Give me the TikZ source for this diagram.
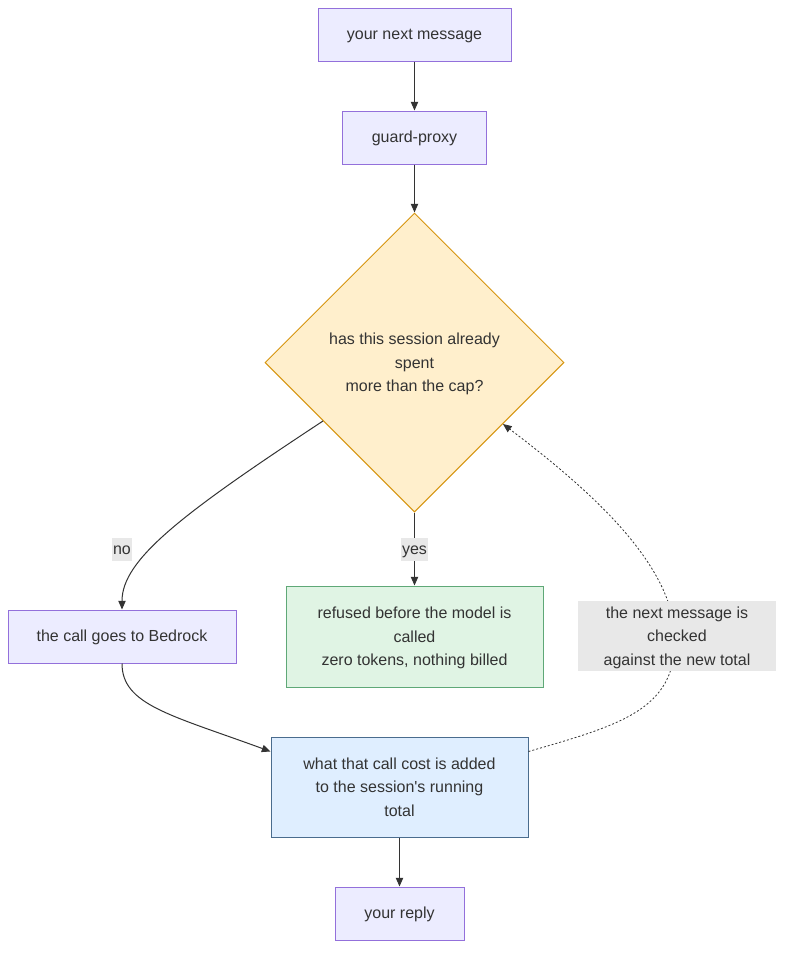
\documentclass[tikz,border=0pt]{standalone}
\usepackage{fontspec}
\setmainfont{Liberation Sans}[Ligatures=TeXOff]
\usetikzlibrary{shapes.geometric,arrows.meta,calc}

\definecolor{boxfill}{HTML}{ECECFF}
\definecolor{boxline}{HTML}{9370DB}
\definecolor{askfill}{HTML}{FFEFCC}
\definecolor{askline}{HTML}{D6950F}
\definecolor{okfill}{HTML}{E0F4E4}
\definecolor{okline}{HTML}{5FA877}
\definecolor{sumfill}{HTML}{DFEEFF}
\definecolor{sumline}{HTML}{4A6C8E}
\definecolor{lblfill}{HTML}{E8E8E8}
\definecolor{ink}{HTML}{333333}

\begin{document}
\begin{tikzpicture}[x=0.75pt,y=-0.75pt]

    \tikzstyle{base} = [line width=0.75pt, text=ink, align=center, inner sep=0pt, font=\fontsize{12}{17.6}\selectfont]
    \tikzstyle{oneline} = [text height=10pt, text depth=2.5pt]
    \tikzstyle{multi} = [text depth=0pt]
    \tikzstyle{block} = [base, draw=boxline, fill=boxfill, rectangle, minimum height=39.75pt]
    \tikzstyle{ask} = [base, multi, draw=askline, fill=askfill, diamond, minimum width=224.25pt, minimum height=224.25pt]
    \tikzstyle{edgelbl} = [base, fill=lblfill, inner xsep=1pt, minimum height=17.25pt]
    \tikzstyle{link} = [line width=0.75pt, draw=ink, -{Triangle[length=6.5pt,width=5.5pt]}]

    \useasboundingbox (0,0) rectangle (792,958);

    \node[block, oneline, minimum width=144.75pt] (msg) at (414.5,34.5) {your next message};
    \node[block, oneline, minimum width=108pt] (proxy) at (414.5,137.5) {guard-proxy};
    \node[ask] (cap) at (414.5,362.5) {has this session already\\spent\\more than the cap?};
    \node[block, multi, draw=okline, fill=okfill, minimum width=192.75pt, minimum height=75.75pt] (refuse) at (414.5,636.5) {refused before the model is\\called\\zero tokens, nothing billed};
    \node[block, oneline, minimum width=171pt] (bedrock) at (122,636.5) {the call goes to Bedrock};
    \node[block, multi, draw=sumline, fill=sumfill, minimum width=192.75pt, minimum height=75pt] (cost) at (399.5,787) {what that call cost is added\\to the session's running\\total};
    \node[block, oneline, minimum width=96.75pt] (reply) at (399.5,913.5) {your reply};

    \draw[link] (msg) -- (proxy);
    \draw[link] (proxy) -- (cap);
    \draw[link] ($(cap.west)!0.39!(cap.south)$) .. controls (180,515) and (122,560) .. (bedrock.north);
    \draw[link] (cap.south) -- (refuse.north);
    \draw[link] (bedrock.south) .. controls (122,705) and (171,715) .. ($(cost.north west)+(0,15)$);
    \draw[link] (cost) -- (reply);
    \draw[link, dash pattern=on 1.5pt off 1.5pt, line width=0.6pt] ($(cost.north east)+(0,15)$) .. controls (620,725) and (675,710) .. (675,640) .. controls (675,565) and (590,490) .. ($(cap.east)!0.41!(cap.south)$);

    \node[edgelbl, oneline] (no) at (122,549) {no};
    \node[edgelbl, oneline] (yes) at (414.5,549) {yes};
    \node[edgelbl, multi, minimum width=148.5pt, minimum height=52.5pt] (again) at (677,636) {the next message is\\checked\\against the new total};
\end{tikzpicture}
\end{document}
